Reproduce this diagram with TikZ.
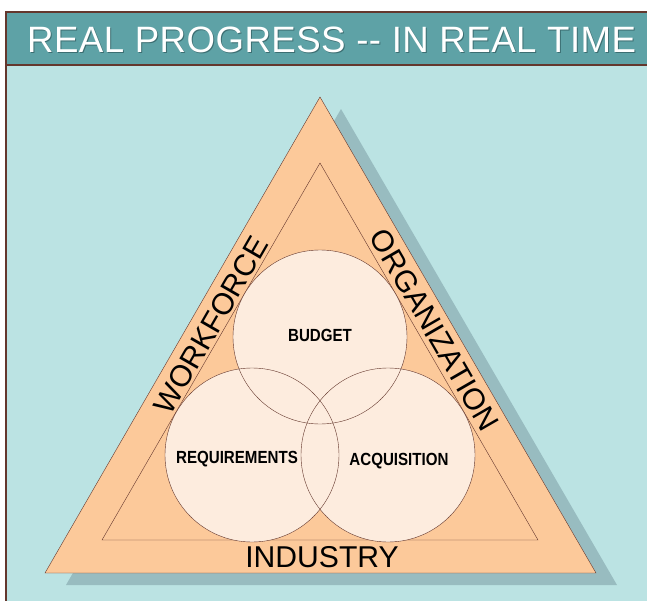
\documentclass[tikz,border=0pt]{standalone}
\usepackage{fontspec}
\setmainfont{Liberation Sans}
\newfontfamily\narrowfont[FakeStretch=0.86]{Liberation Sans}
\newfontfamily\titlefont[LetterSpace=1.2]{Liberation Sans}
\definecolor{headteal}{RGB}{94,162,166}
\definecolor{bodycyan}{RGB}{187,227,227}
\definecolor{shadowgray}{RGB}{152,188,192}
\definecolor{bandpeach}{RGB}{252,201,154}
\definecolor{ringcream}{RGB}{253,236,222}
\definecolor{edgebrown}{RGB}{100,55,45}
\definecolor{titleshade}{RGB}{60,110,114}
\tikzset{
  edge/.style={draw=edgebrown, line width=0.4pt},
  ring/.style={draw=edgebrown, line width=0.4pt},
  bandtext/.style={font=\fontsize{30}{30}\selectfont},
  ringtext/.style={font=\narrowfont\bfseries\fontsize{17.5}{17.5}\selectfont},
  titletext/.style={anchor=base west, font=\titlefont\fontsize{36.5}{36.5}\selectfont}
}
\begin{document}
\begin{tikzpicture}[scale=0.35]
\tikzstyle{every node}+=[inner sep=0pt]
\useasboundingbox (0,0) rectangle (64.7,-60.1);
% frame
\fill [bodycyan] (0.6,-6.5) rectangle (64.7,-60.1);
\fill [headteal] (0.6,-1.2) rectangle (64.7,-6.5);
\draw [edgebrown, line width=2pt] (0.6,-60.1) -- (0.6,-1.2) -- (64.7,-1.2);
\draw [edgebrown, line width=2pt] (0.6,-6.5) -- (64.7,-6.5);
\node [titletext, text=titleshade] at (2.8,-5.3) {REAL PROGRESS {-}{-} IN REAL TIME};
\node (title) [titletext, text=white] at (2.7,-5.2) {REAL PROGRESS {-}{-} IN REAL TIME};
% triangles
\fill [shadowgray] (34.1,-10.9) -- (6.6,-58.5) -- (61.7,-58.5) -- cycle;
\filldraw [fill=bandpeach, edge] (32.0,-9.7) -- (4.5,-57.3) -- (59.6,-57.3) -- cycle;
\draw [edge] (32.0,-16.3) -- (10.2,-54.0) -- (53.8,-54.0) -- cycle;
% circles
\fill [ringcream] (32.0,-33.7) circle (8.7);
\fill [ringcream] (25.2,-45.5) circle (8.7);
\fill [ringcream] (38.8,-45.5) circle (8.7);
\draw [ring] (32.0,-33.7) circle (8.7);
\draw [ring] (25.2,-45.5) circle (8.7);
\draw [ring] (38.8,-45.5) circle (8.7);
% labels
\node (budget) [ringtext] at (32.0,-33.5) {BUDGET};
\node (requirements) [ringtext] at (23.7,-45.9) {REQUIREMENTS};
\node (acquisition) [ringtext] at (39.9,-46.1) {ACQUISITION};
\node (workforce) [bandtext, rotate=60] at (21.1,-32.5) {WORKFORCE};
\node (organization) [bandtext, rotate=-60] at (43.45,-33.0) {ORGANIZATION};
\node (industry) [bandtext] at (32.2,-55.7) {INDUSTRY};
\end{tikzpicture}
\end{document}
